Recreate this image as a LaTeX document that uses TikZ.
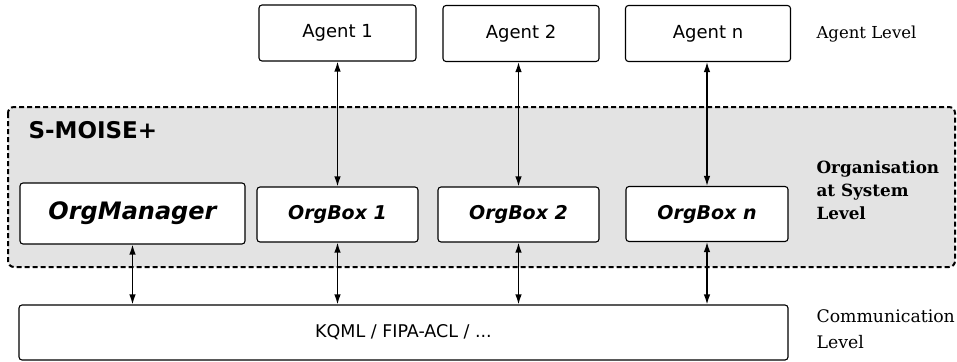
\documentclass[tikz,border=0pt]{standalone}
\usepackage{fontspec}
\setmainfont{DejaVu Serif}
\setsansfont{DejaVu Sans}
\usetikzlibrary{
    arrows.meta,
    positioning
}
\tikzset{
    % Colors
    system fill/.style={fill=black!11},
    %
    % Boxes
    box/.style={draw,rounded corners=3pt,line width=1.1pt,fill=white,inner sep=0pt},
    agent box/.style={box,minimum height=56pt,font=\sffamily\fontsize{18}{20}\selectfont},
    org box/.style={box,minimum height=55pt,font=\sffamily\bfseries\itshape\fontsize{19}{21}\selectfont},
    level label/.style={anchor=west,align=left},
    %
    % Arrows
    arrow tip/.tip={Latex[length=10pt,width=6.5pt]},
    darr/.style={<->,>={arrow tip},line width=1.3pt},
}

\begin{document}
\begin{tikzpicture}[x=1pt,y=-1pt]
    \useasboundingbox (0,0) rectangle (957,361);
    % organisation region
    \draw[system fill,line width=2pt,dash pattern=on 5pt off 3pt,rounded corners=6pt] (8,107) rectangle (955,267);
    \node[anchor=west,font=\sffamily\bfseries\fontsize{23}{25}\selectfont] (smoise) at (25,130) {S-MOISE+};

    % agents
    \node[agent box,minimum width=157pt] (a1) at (337.5,33) {Agent 1};
    \node[agent box,minimum width=156pt] (a2) at (521,33.5) {Agent 2};
    \node[agent box,minimum width=165pt] (an) at (708,33.5) {Agent n};

    % organisation boxes
    \node[org box,minimum width=225pt,minimum height=61pt,font=\sffamily\bfseries\itshape\fontsize{24}{26}\selectfont] (om) at (132.5,213.5) {OrgManager};
    \node[org box,minimum width=161pt] (ob1) at (337.5,214.5) {OrgBox 1};
    \node[org box,minimum width=161pt] (ob2) at (518.5,214.5) {OrgBox 2};
    \node[org box,minimum width=162pt] (obn) at (707,214) {OrgBox n};

    % communication
    \node[box,minimum width=769pt,minimum height=55pt,font=\sffamily\fontsize{17.5}{19}\selectfont] (kqml) at (403.5,332.5) {KQML / FIPA-ACL / ...};

    % level labels
    \node[level label,font=\fontsize{16.5}{18}\selectfont] (alevel) at (813,34) {Agent Level};
    \node[level label,font=\bfseries\fontsize{16.8}{23}\selectfont] (slevel) at (813,190) {Organisation\\at System\\Level};
    \node[level label,font=\fontsize{17.3}{26}\selectfont] (clevel) at (813,329) {Communication\\Level};

    % connectors
    \foreach \ag/\ob in {a1/ob1,a2/ob2,an/obn} {
        \draw[darr] (\ob.north |- \ag.south) -- (\ob.north);
    }
    \foreach \ob in {om,ob1,ob2,obn} {
        \draw[darr] (\ob.south) -- (\ob.south |- kqml.north);
    }
\end{tikzpicture}
\end{document}
